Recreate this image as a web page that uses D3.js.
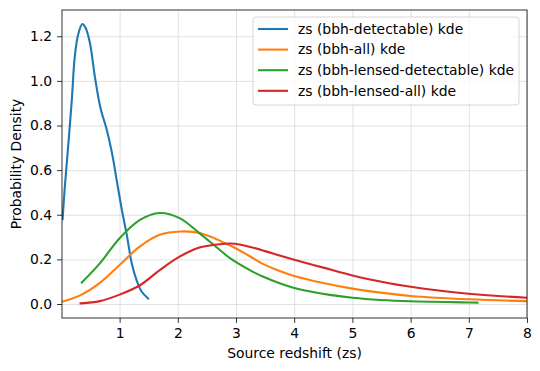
<!DOCTYPE html>
<html>
<head>
<meta charset="utf-8">
<script src="https://cdn.jsdelivr.net/npm/d3@7"></script>
<style>
  html, body { margin: 0; padding: 0; background: #fff; }
  svg { display: block; font-family: 'DejaVu Sans', sans-serif; }
  .axis path, .axis line { stroke: #000; stroke-width: 0.8; }
  .axis text { font-size: 13.9px; fill: #000; font-family: 'DejaVu Sans', sans-serif; }
  .grid line { stroke: #d9d9d9; stroke-width: 0.8; }
  .grid path { display: none; }
</style>
</head>
<body>
<div id="chart"></div>
<script>
'use strict';

// ── Data ──────────────────────────────────────────────────────────────────
const SERIES_NAMES = [
  'zs (bbh-detectable) kde',
  'zs (bbh-all) kde',
  'zs (bbh-lensed-detectable) kde',
  'zs (bbh-lensed-all) kde',
];
const COLORS = ['#1f77b4', '#ff7f0e', '#2ca02c', '#d62728'];

const detX = [0.02, 0.06, 0.12, 0.18, 0.23, 0.29, 0.36, 0.42, 0.49, 0.58, 0.67, 0.78, 0.87, 0.95, 1.04, 1.13, 1.21, 1.30, 1.38, 1.49];
const detY = [0.38, 0.53, 0.72, 0.92, 1.11, 1.21, 1.255, 1.235, 1.17, 1.01, 0.88, 0.78, 0.675, 0.555, 0.42, 0.30, 0.18, 0.10, 0.055, 0.025];

const allX = [0.01, 0.33, 0.66, 1.0, 1.35, 1.69, 2.05, 2.38, 2.89, 3.23, 3.46, 3.75, 4.0, 4.5, 5.0, 5.48, 6.0, 7.0, 8.0, 8.5];
const allY = [0.010, 0.040, 0.095, 0.175, 0.258, 0.310, 0.325, 0.318, 0.263, 0.215, 0.180, 0.148, 0.126, 0.094, 0.069, 0.051, 0.036, 0.021, 0.013, 0.011];

const lensDetX = [0.35, 0.66, 1.0, 1.35, 1.69, 2.03, 2.37, 2.65, 2.89, 3.23, 3.46, 3.75, 4.0, 4.32, 4.61, 5.0, 5.48, 6.0, 7.0, 7.15];
const lensDetY = [0.096, 0.182, 0.295, 0.377, 0.408, 0.385, 0.318, 0.258, 0.207, 0.153, 0.123, 0.093, 0.072, 0.054, 0.041, 0.028, 0.018, 0.012, 0.007, 0.006];

const lensAllX = [0.33, 0.66, 1.0, 1.35, 1.69, 2.03, 2.37, 2.72, 2.89, 3.06, 3.23, 3.5, 3.75, 4.0, 4.5, 5.0, 5.48, 6.0, 7.0, 8.0, 8.5];
const lensAllY = [0.003, 0.013, 0.042, 0.084, 0.152, 0.212, 0.253, 0.268, 0.271, 0.267, 0.257, 0.237, 0.217, 0.198, 0.163, 0.128, 0.101, 0.077, 0.046, 0.028, 0.023];

const X_TICKS = [1, 2, 3, 4, 5, 6, 7, 8];
const Y_TICKS = [0.0, 0.2, 0.4, 0.6, 0.8, 1.0, 1.2];

const series = [
  { name: SERIES_NAMES[0], color: COLORS[0], xs: detX, ys: detY },
  { name: SERIES_NAMES[1], color: COLORS[1], xs: allX, ys: allY },
  { name: SERIES_NAMES[2], color: COLORS[2], xs: lensDetX, ys: lensDetY },
  { name: SERIES_NAMES[3], color: COLORS[3], xs: lensAllX, ys: lensAllY },
].map(s => ({ ...s, points: s.xs.map((x, i) => ({ x, y: s.ys[i] })) }));

// ── Layout ────────────────────────────────────────────────────────────────
const W = 540, H = 371;
const margin = { top: 10, right: 13, bottom: 53, left: 62 };
const iw = W - margin.left - margin.right;
const ih = H - margin.top - margin.bottom;

const yMax = 1.255, yMin = 0;
const pad = (yMax - yMin) * 0.05;

const x = d3.scaleLinear().domain([0.01, 8]).range([0, iw]);
const y = d3.scaleLinear().domain([yMin - pad, yMax + pad]).range([ih, 0]);

const svg = d3.select('#chart').append('svg')
  .attr('width', W).attr('height', H);

svg.append('defs').append('clipPath').attr('id', 'clip')
  .append('rect').attr('width', iw).attr('height', ih);

const g = svg.append('g').attr('transform', `translate(${margin.left},${margin.top})`);

// grid
g.append('g').attr('class', 'grid')
  .call(d3.axisLeft(y).tickValues(Y_TICKS).tickSize(-iw).tickFormat(''));
g.append('g').attr('class', 'grid').attr('transform', `translate(0,${ih})`)
  .call(d3.axisBottom(x).tickValues(X_TICKS).tickSize(-ih).tickFormat(''));

// curves
const line = d3.line()
  .x(d => x(d.x))
  .y(d => y(d.y))
  .curve(d3.curveCatmullRom.alpha(0.5));

g.append('g').attr('clip-path', 'url(#clip)')
  .selectAll('path')
  .data(series)
  .join('path')
  .attr('d', d => line(d.points))
  .attr('fill', 'none')
  .attr('stroke', d => d.color)
  .attr('stroke-width', 2.1)
  .attr('stroke-linejoin', 'round')
  .attr('stroke-linecap', 'square');

// axes
g.append('g').attr('class', 'axis').attr('transform', `translate(0,${ih})`)
  .call(d3.axisBottom(x).tickValues(X_TICKS).tickSize(4.9).tickPadding(4.9).tickFormat(d3.format('d')))
  .call(a => a.select('.domain').remove());
g.append('g').attr('class', 'axis')
  .call(d3.axisLeft(y).tickValues(Y_TICKS).tickSize(4.9).tickPadding(4.9).tickFormat(d3.format('.1f')))
  .call(a => a.select('.domain').remove());

// frame
g.append('rect')
  .attr('width', iw).attr('height', ih)
  .attr('fill', 'none').attr('stroke', '#000').attr('stroke-width', 0.8);

// axis labels
svg.append('text')
  .attr('x', margin.left + iw / 2).attr('y', 358)
  .attr('text-anchor', 'middle')
  .attr('font-size', '13.9px')
  .text('Source redshift (zs)');

svg.append('text')
  .attr('transform', `translate(21,${margin.top + ih / 2}) rotate(-90)`)
  .attr('text-anchor', 'middle')
  .attr('font-size', '13.9px')
  .text('Probability Density');

// legend
const lg = svg.append('g').attr('transform', 'translate(253,17)');
lg.append('rect')
  .attr('width', 266).attr('height', 88)
  .attr('rx', 3).attr('ry', 3)
  .attr('fill', '#fff').attr('fill-opacity', 0.8)
  .attr('stroke', '#cccccc').attr('stroke-width', 0.8);

const items = lg.selectAll('g.item')
  .data(series)
  .join('g')
  .attr('class', 'item')
  .attr('transform', (d, i) => `translate(0,${12 + i * 20.6})`);

items.append('line')
  .attr('x1', 5).attr('x2', 35)
  .attr('stroke', d => d.color)
  .attr('stroke-width', 2.1);

items.append('text')
  .attr('x', 45).attr('dy', '0.35em')
  .attr('font-size', '13.9px')
  .text(d => d.name);
</script>
</body>
</html>
